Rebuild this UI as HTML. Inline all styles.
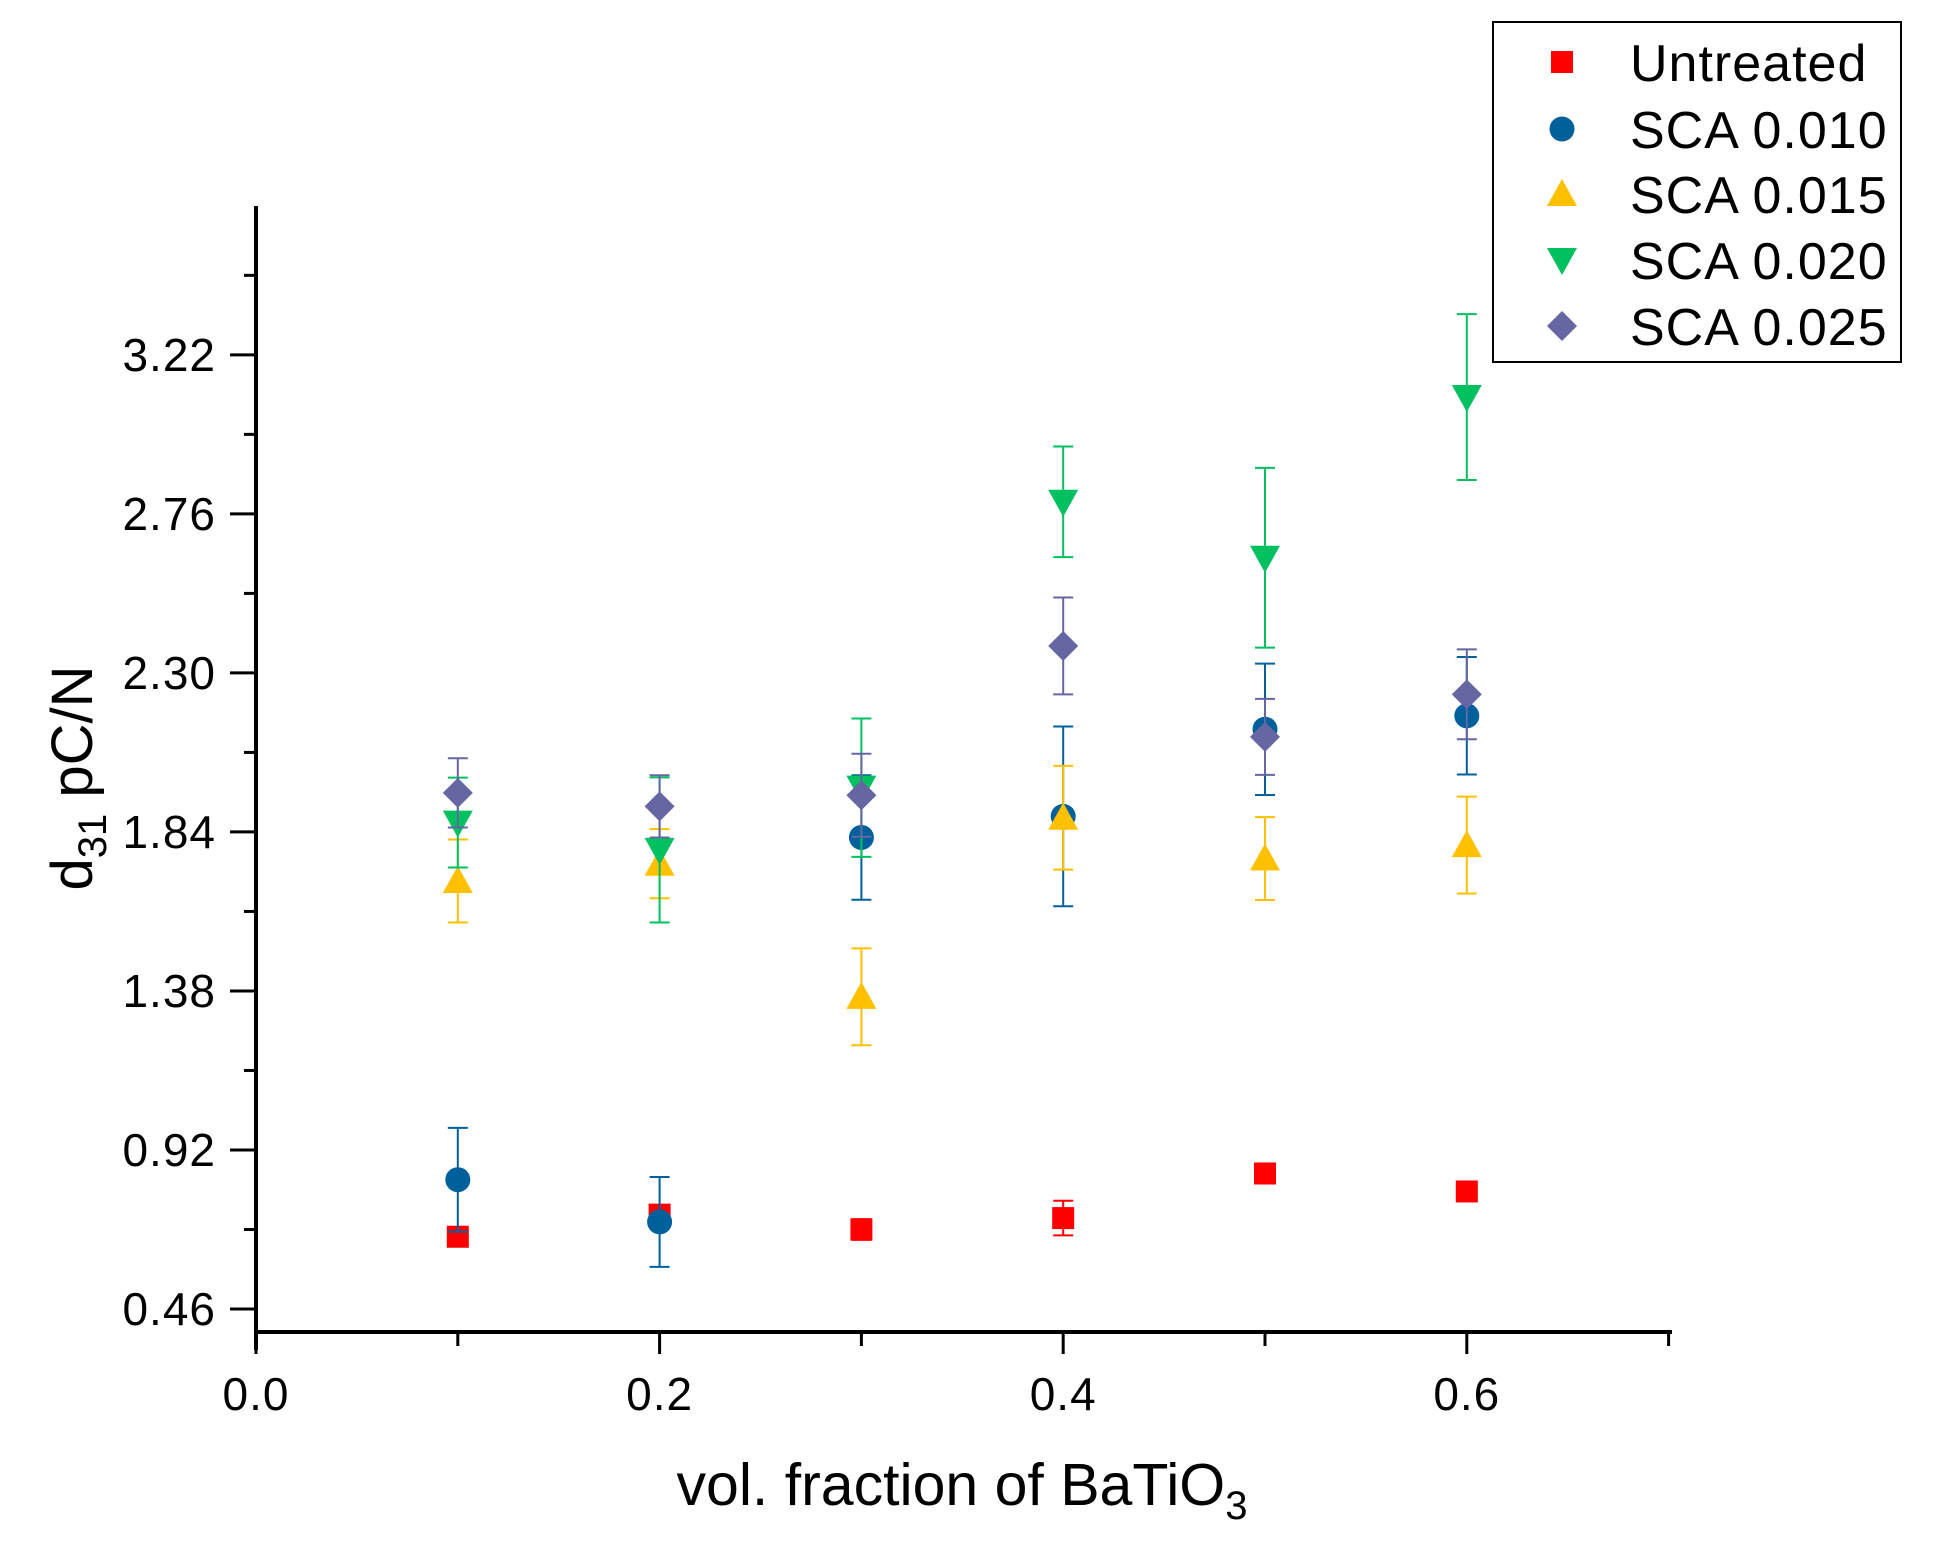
<!DOCTYPE html>
<html><head><meta charset="utf-8"><style>
html,body{margin:0;padding:0;background:#fff;}
svg{display:block;font-family:"Liberation Sans",Arial,sans-serif;}
</style></head><body>
<svg id="chart" width="1951" height="1542" viewBox="0 0 1951 1542" xmlns="http://www.w3.org/2000/svg">
<rect width="1951" height="1542" fill="#fff"/>
<g id="plot"></g>
<text transform="translate(92,778) rotate(-90)" text-anchor="middle" font-size="58">d<tspan font-size="40" dy="14">31</tspan><tspan dy="-14"> pC/N</tspan></text>
<text x="962" y="1505" text-anchor="middle" font-size="59">vol. fraction of BaTiO<tspan font-size="40" dy="14">3</tspan></text>
<g>
<rect x="1493" y="22" width="408" height="340" fill="#fff" stroke="#000" stroke-width="2"/>
<g id="legend-items"></g>
</g>
</svg>
<script>
const xValues = [0.1, 0.2, 0.3, 0.4, 0.5, 0.6];
const seriesNames = ["Untreated", "SCA 0.010", "SCA 0.015", "SCA 0.020", "SCA 0.025"];
const untreated = [0.669, 0.733, 0.69, 0.723, 0.852, 0.80];
const untreatedErr = [0.02, 0.02, 0.03, 0.05, 0.02, 0.02];
const sca010 = [0.834, 0.712, 1.824, 1.885, 2.137, 2.176];
const sca010Err = [0.15, 0.13, 0.18, 0.26, 0.19, 0.17];
const sca015 = [1.698, 1.748, 1.363, 1.881, 1.763, 1.802];
const sca015Err = [0.12, 0.10, 0.14, 0.15, 0.12, 0.14];
const sca020 = [1.867, 1.788, 1.968, 2.795, 2.633, 3.098];
const sca020Err = [0.13, 0.21, 0.20, 0.16, 0.26, 0.24];
const sca025 = [1.953, 1.914, 1.946, 2.378, 2.115, 2.238];
const sca025Err = [0.10, 0.09, 0.12, 0.14, 0.11, 0.13];
const yTicks = [0.46, 0.92, 1.38, 1.84, 2.30, 2.76, 3.22];
const yTickLabels = ["0.46", "0.92", "1.38", "1.84", "2.30", "2.76", "3.22"];
const xTicks = [0.0, 0.2, 0.4, 0.6];
const xTickLabels = ["0.0", "0.2", "0.4", "0.6"];

const NS = "http://www.w3.org/2000/svg";
const X0 = 256, XPX = 2018;
const Y0 = 1309, YPX = 345.7;
const xs = v => X0 + v * XPX;
const ys = v => Y0 - (v - 0.46) * YPX;
const plot = document.getElementById('plot');
function mk(tag, attrs, parent) {
  const e = document.createElementNS(NS, tag);
  for (const k in attrs) e.setAttribute(k, attrs[k]);
  (parent || plot).appendChild(e);
  return e;
}
let a = mk('line', {x1: X0, y1: 206, x2: X0, y2: 1350, stroke: '#000', 'stroke-width': 4});


a = mk('line', {x1: X0 - 2, y1: 1332, x2: 1672, y2: 1332, stroke: '#000', 'stroke-width': 4});


for (let k = 0; k <= 13; k++) {
  const v = 0.46 + k * 0.23;
  const major = k % 2 === 0;
  const y = ys(v);
  const t = mk('line', {x1: major ? 230 : 244, y1: y, x2: X0, y2: y, stroke: '#000', 'stroke-width': 3});
  
  
}
yTicks.forEach((v, i) => {
  const t = mk('text', {x: 216, y: ys(v) + 16, 'text-anchor': 'end', 'font-size': 46, 'letter-spacing': 1});
  t.textContent = yTickLabels[i];
  
  
});
for (let i = 0; i <= 7; i++) {
  const v = i * 0.1, x = xs(v);
  const major = i % 2 === 0;
  const t = mk('line', {x1: x, y1: 1332, x2: x, y2: major ? 1354 : 1346, stroke: '#000', 'stroke-width': 3});
  
  
}
xTicks.forEach((v, i) => {
  const t = mk('text', {x: xs(v), y: 1410, 'text-anchor': 'middle', 'font-size': 46, 'letter-spacing': 1});
  t.textContent = xTickLabels[i];
  
  
});
const colors = ["#ff0000", "#00609c", "#ffc000", "#00c060", "#6666a3"];
const shapes = ["square", "circle", "up", "down", "diamond"];
const vals = [untreated, sca010, sca015, sca020, sca025];
const errs = [untreatedErr, sca010Err, sca015Err, sca020Err, sca025Err];
function marker(shape, cx, cy, color, parent) {
  if (shape === 'square') return mk('rect', {x: cx - 11, y: cy - 11, width: 22, height: 22, fill: color}, parent);
  if (shape === 'circle') return mk('circle', {cx: cx, cy: cy, r: 12.5, fill: color}, parent);
  if (shape === 'up') return mk('polygon', {points: `${cx},${cy - 15} ${cx + 15},${cy + 12} ${cx - 15},${cy + 12}`, fill: color}, parent);
  if (shape === 'down') return mk('polygon', {points: `${cx},${cy + 15} ${cx + 15},${cy - 12} ${cx - 15},${cy - 12}`, fill: color}, parent);
  return mk('polygon', {points: `${cx},${cy - 15} ${cx + 15},${cy} ${cx},${cy + 15} ${cx - 15},${cy}`, fill: color}, parent);
}
vals.forEach((arr, s) => {
  const g = mk('g', {});
  
  
  arr.forEach((v, i) => {
    const x = xs(xValues[i]);
    const yt = ys(v + errs[s][i]), yb = ys(v - errs[s][i]);
    const eb = mk('path', {d: `M${x},${yt}V${yb}M${x - 10},${yt}H${x + 10}M${x - 10},${yb}H${x + 10}`, stroke: colors[s], 'stroke-width': 2, fill: 'none'}, g);
    
    
    const m = marker(shapes[s], x, ys(v), colors[s], g);
    
    
  });
});
const leg = document.getElementById('legend-items');
const rowY = [62, 129, 194, 260, 326];
seriesNames.forEach((n, s) => {
  const g = mk('g', {}, leg);
  
  
  marker(shapes[s], 1562, rowY[s], colors[s], g);
  const t = mk('text', {x: 1630, y: rowY[s] + 19, 'font-size': 52, 'letter-spacing': 1}, g);
  t.textContent = n;
});
</script>
</body></html>
